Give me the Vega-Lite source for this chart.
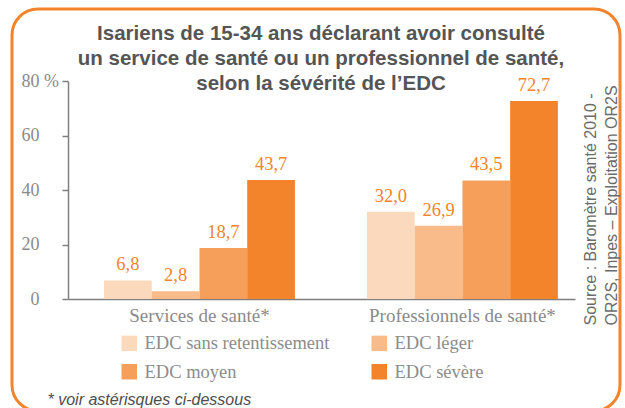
{
  "$schema": "https://vega.github.io/schema/vega-lite/v6.json",
  "width": 608,
  "height": 402,
  "autosize": "none",
  "padding": {"left": 12, "top": 9, "right": 5, "bottom": 0},
  "background": "white",
  "title": {
    "text": ["Isariens de 15-34 ans déclarant avoir consulté", "un service de santé ou un professionnel de santé,", "selon la sévérité de l’EDC"],
    "anchor": "middle",
    "frame": "group",
    "orient": "top",
    "offset": -101.5,
    "baseline": "alphabetic",
    "font": "Liberation Sans",
    "fontSize": 20.5,
    "fontWeight": "bold",
    "color": "#555555",
    "lineHeight": 25,
    "dx": 5
  },
  "data": {
    "values": [
      {"groupe": "Services de santé*", "severite": "EDC sans retentissement", "valeur": 6.8},
      {"groupe": "Services de santé*", "severite": "EDC léger", "valeur": 2.8},
      {"groupe": "Services de santé*", "severite": "EDC moyen", "valeur": 18.7},
      {"groupe": "Services de santé*", "severite": "EDC sévère", "valeur": 43.7},
      {"groupe": "Professionnels de santé*", "severite": "EDC sans retentissement", "valeur": 32.0},
      {"groupe": "Professionnels de santé*", "severite": "EDC léger", "valeur": 26.9},
      {"groupe": "Professionnels de santé*", "severite": "EDC moyen", "valeur": 43.5},
      {"groupe": "Professionnels de santé*", "severite": "EDC sévère", "valeur": 72.7}
    ]
  },
  "encoding": {
    "x": {
      "field": "groupe",
      "type": "nominal",
      "sort": ["Services de santé*", "Professionnels de santé*"],
      "scale": {"range": [56, 563], "paddingInner": 0.274, "paddingOuter": 0.101, "align": 0.678},
      "axis": {
        "orient": "bottom",
        "offset": -112,
        "labelAngle": 0,
        "ticks": false,
        "tickSize": 0,
        "labelPadding": 22,
        "labelBaseline": "alphabetic",
        "labelFont": "Liberation Serif",
        "labelFontSize": 19,
        "labelColor": "#8a8a8a",
        "labelLimit": 400,
        "domainColor": "#7f7f7f",
        "domainWidth": 1.5,
        "title": "* voir astérisques ci-dessous",
        "titleX": 35,
        "titleY": 105,
        "titleAlign": "left",
        "titleBaseline": "alphabetic",
        "titleFont": "Liberation Sans",
        "titleFontStyle": "italic",
        "titleFontWeight": "normal",
        "titleFontSize": 16,
        "titleColor": "#4d4d4d"
      }
    },
    "xOffset": {
      "field": "severite",
      "type": "nominal",
      "sort": ["EDC sans retentissement", "EDC léger", "EDC moyen", "EDC sévère"],
      "scale": {"paddingInner": 0, "paddingOuter": 0}
    },
    "y": {
      "field": "valeur",
      "type": "quantitative",
      "scale": {"domain": [0, 80], "range": [290, 72], "nice": false, "zero": true},
      "axis": {
        "offset": -56,
        "values": [0, 20, 40, 60, 80],
        "grid": false,
        "tickSize": 6,
        "tickColor": "#7f7f7f",
        "tickWidth": 1.5,
        "domainColor": "#7f7f7f",
        "domainWidth": 1.5,
        "labelExpr": "datum.value == 80 ? '80 %' : (datum.value == 0 ? '\u200b\u20070' : datum.label)",
        "labelAlign": "left",
        "labelBaseline": "middle",
        "labelPadding": 41,
        "labelFont": "Liberation Serif",
        "labelFontSize": 18,
        "labelColor": "#8a8a8a",
        "title": ["Source : Baromètre santé 2010 -", "OR2S, Inpes – Exploitation OR2S"],
        "titleAngle": 270,
        "titleX": 527,
        "titleY": 316,
        "titleAlign": "left",
        "titleBaseline": "alphabetic",
        "titleFont": "Liberation Sans",
        "titleFontSize": 16,
        "titleFontWeight": "normal",
        "titleColor": "#6b6b6b",
        "titleLineHeight": 21
      }
    }
  },
  "layer": [
    {
      "mark": {"type": "bar"},
      "encoding": {
        "color": {
          "field": "severite",
          "type": "nominal",
          "scale": {
            "domain": ["EDC sans retentissement", "EDC moyen", "EDC léger", "EDC sévère"],
            "range": ["#FBD9BC", "#F69F5B", "#F9BB89", "#F3842B"]
          },
          "legend": {
            "title": null,
            "orient": "none",
            "legendX": 108,
            "legendY": 325,
            "columns": 2,
            "symbolType": "square",
            "symbolSize": 240,
            "symbolStrokeWidth": 0,
            "labelFont": "Liberation Serif",
            "labelFontSize": 18.5,
            "labelColor": "#8c8c8c",
            "labelOffset": 6,
            "labelLimit": 400,
            "columnPadding": 40,
            "rowPadding": 9.5,
            "padding": 0
          }
        }
      }
    },
    {
      "mark": {
        "type": "text",
        "align": "center",
        "baseline": "alphabetic",
        "dy": -10,
        "font": "Liberation Serif",
        "fontSize": 18.5,
        "fill": "#F3842B"
      },
      "encoding": {
        "text": {"field": "valeur", "type": "quantitative", "format": ".1f"}
      }
    }
  ],
  "config": {
    "locale": {"number": {"decimal": ",", "thousands": " ", "grouping": [3], "currency": ["", " €"]}},
    "view": {"stroke": "#F3842B", "strokeWidth": 3, "cornerRadius": 26, "fill": "white"}
  }
}
